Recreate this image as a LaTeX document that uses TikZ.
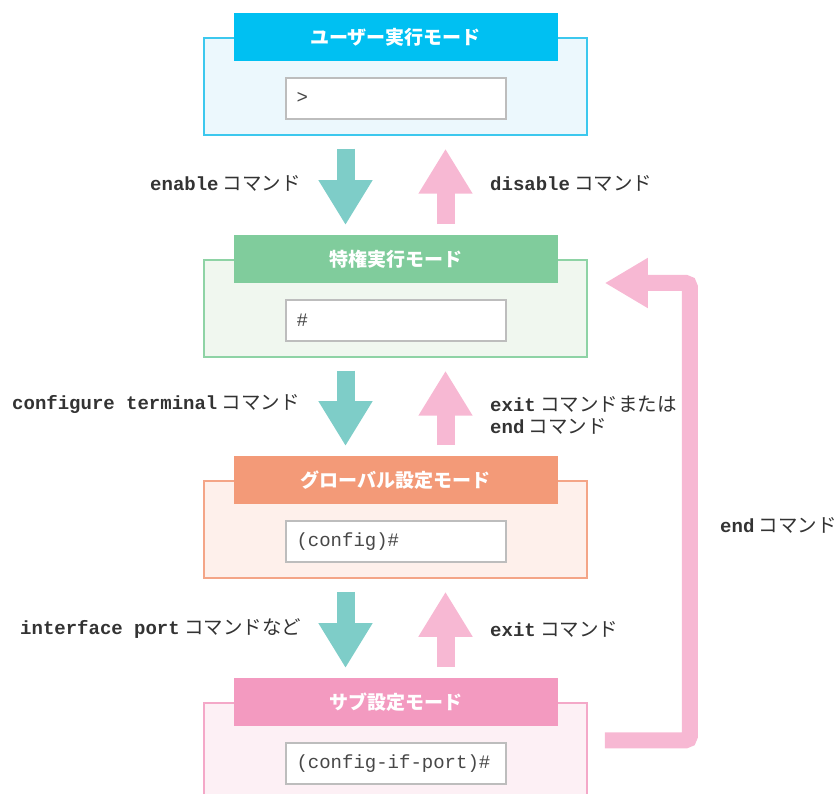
\documentclass[tikz,border=0pt]{standalone}
\usepackage{fontspec}
\setmainfont{Liberation Sans}
\newfontfamily\jp{Noto Sans CJK JP}
\newfontfamily\mono{Liberation Mono}
\usetikzlibrary{arrows.meta,calc}
\definecolor{txt}{HTML}{333333}
\definecolor{bluebg}{HTML}{ECF8FD}\definecolor{blueln}{HTML}{3CC8EE}\definecolor{bluebn}{HTML}{00C0F2}
\definecolor{greenbg}{HTML}{F0F7EF}\definecolor{greenln}{HTML}{8ED3A5}\definecolor{greenbn}{HTML}{80CC9C}
\definecolor{orbg}{HTML}{FEF0EB}\definecolor{orln}{HTML}{F4A587}\definecolor{orbn}{HTML}{F39A78}
\definecolor{pkbg}{HTML}{FDF0F5}\definecolor{pkln}{HTML}{F4A8C8}\definecolor{pkbn}{HTML}{F39AC0}
\definecolor{teal}{HTML}{7ECDC8}\definecolor{pinkar}{HTML}{F7B8D3}
\definecolor{consln}{HTML}{BDBDBD}
\tikzset{
  outerbox/.style={draw=#1ln, fill=#1bg, line width=1.5pt, minimum width=383pt, minimum height=97pt, inner sep=0pt},
  banner/.style={fill=#1bn, minimum width=324pt, minimum height=48pt, inner sep=0pt, text=white, font=\jp\bfseries\fontsize{19}{22}\selectfont},
  console/.style={draw=consln, fill=white, line width=2pt, minimum width=220pt, minimum height=41pt, text width=198pt, inner xsep=11pt, inner ysep=0pt, align=left, text=txt!90, font=\mono\fontsize{19}{21}\selectfont},
  lbl/.style={anchor=west, inner sep=0pt, text=txt, align=left, font=\jp\fontsize{19.5}{22}\selectfont},
  downarr/.style={draw=teal, line width=18pt, -{Triangle[width=51pt,length=45pt]}},
  uparr/.style={draw=pinkar, line width=18pt, -{Triangle[width=51pt,length=45pt]}},
  retarr/.style={draw=pinkar, line width=16pt, rounded corners=4pt, -{Triangle[width=47pt,length=43pt]}},
}
\newcommand{\cmd}[1]{{\mono\bfseries\fontsize{19}{22}\selectfont #1}}
\newcommand{\btext}[1]{\raisebox{-2pt}{#1}}
\begin{document}
\begin{tikzpicture}[x=1pt,y=-1pt]
\useasboundingbox (0,0) rectangle (836,794);
\clip (0,0) rectangle (836,794);
% box 1
\node[outerbox=blue] (o1) at (395.5,86.5) {};
\node[banner=blue] (t1) at (o1.north) {\btext{ユーザー実行モード}};
\node[console] (c1) at ($(o1.north)+(0,61)$) {>};
% box 2
\node[outerbox=green] (o2) at (395.5,308.5) {};
\node[banner=green] (t2) at (o2.north) {\btext{特権実行モード}};
\node[console] (c2) at ($(o2.north)+(0,61)$) {\#};
% box 3
\node[outerbox=or] (o3) at (395.5,529.5) {};
\node[banner=or] (t3) at (o3.north) {\btext{グローバル設定モード}};
\node[console] (c3) at ($(o3.north)+(0,61)$) {(config)\#};
% box 4
\node[outerbox=pk] (o4) at (395.5,751.5) {};
\node[banner=pk] (t4) at (o4.north) {\btext{サブ設定モード}};
\node[console] (c4) at ($(o4.north)+(0,61)$) {(config-if-port)\#};
% arrows 1-2
\draw[downarr] ($(o1.south)+(-50,13)$) -- ($(t2.north)+(-50,-10)$);
\draw[uparr] ($(t2.north)+(50,-11)$) -- ($(o1.south)+(50,13)$);
% arrows 2-3
\draw[downarr] ($(o2.south)+(-50,13)$) -- ($(t3.north)+(-50,-10)$);
\draw[uparr] ($(t3.north)+(50,-11)$) -- ($(o2.south)+(50,13)$);
% arrows 3-4
\draw[downarr] ($(o3.south)+(-50,13)$) -- ($(t4.north)+(-50,-10)$);
\draw[uparr] ($(t4.north)+(50,-11)$) -- ($(o3.south)+(50,13)$);
% return arrow
\coordinate (rs) at ($(o4.north east)+(17,38)$);
\coordinate (re) at ($(o2.east)+(17,-25.5)$);
\draw[retarr] (rs) -- ++(85,0) |- (re);
% labels
\node[lbl] (l1) at (150,183) {\cmd{enable} コマンド};
\node[lbl] (l2) at (490,183) {\cmd{disable} コマンド};
\node[lbl] (l3) at (12,404) {\cmd{configure terminal} コマンド};
\node[lbl] (l4) at (490,415) {\cmd{exit} コマンドまたは\\\cmd{end} コマンド};
\node[lbl] (l5) at (20,629) {\cmd{interface port} コマンドなど};
\node[lbl] (l6) at (490,629) {\cmd{exit} コマンド};
\node[lbl] (l7) at (720,525) {\cmd{end} コマンド};
\end{tikzpicture}
\end{document}
